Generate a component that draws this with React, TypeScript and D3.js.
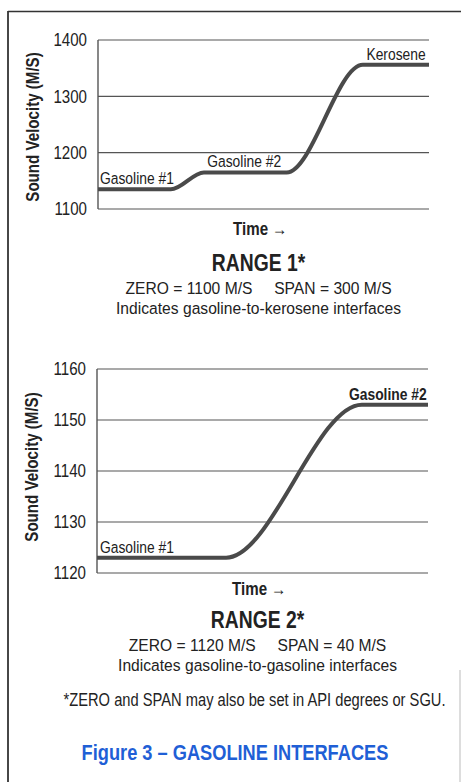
import React, { useEffect, useRef } from 'react';
import * as d3 from 'd3';

// Range 1: gasoline-to-kerosene
const range1Time = [0, 22, 32, 57, 80, 100];
const range1Velocity = [1135, 1135, 1165, 1165, 1356, 1356];
const range1Ticks = [1100, 1200, 1300, 1400];
const range1Labels = [
  { text: 'Gasoline #1', t: 0.6, v: 1135, bold: false, anchor: 'start' },
  { text: 'Gasoline #2', t: 33, v: 1165, bold: false, anchor: 'start' },
  { text: 'Kerosene', t: 99, v: 1356, bold: false, anchor: 'end' }
];

// Range 2: gasoline-to-gasoline
const range2Time = [0, 39, 80, 100];
const range2Velocity = [1123, 1123, 1153, 1153];
const range2Ticks = [1120, 1130, 1140, 1150, 1160];
const range2Labels = [
  { text: 'Gasoline #1', t: 0.9, v: 1123, bold: false, anchor: 'start' },
  { text: 'Gasoline #2', t: 99.6, v: 1153, bold: true, anchor: 'end' }
];

const FONT = '"Liberation Sans", Arial, Helvetica, sans-serif';
const INK = '#222';
const LINE = '#4a4a4a';
const SX = 0.84; // horizontal squeeze, the original is set in a condensed face

// condensed text: squeeze around the anchor point
function txt(parent, x, y, str, o: any = {}) {
  return parent.append('text')
    .attr('transform', `translate(${x},${y})${o.rotate ? ` rotate(${o.rotate})` : ''} scale(${o.sx ?? SX},1)`)
    .attr('text-anchor', o.anchor || 'middle')
    .attr('dy', o.dy || null)
    .attr('font-family', FONT)
    .attr('font-size', o.size || 16)
    .attr('font-weight', o.bold ? 700 : 400)
    .attr('fill', o.fill || INK)
    .attr('xml:space', 'preserve')
    .text(str);
}

function drawPanel(svg, cfg) {
  const { top, bottom, left, right, time, vel, ticks, labels, titleY, timeY, captionY, caption } = cfg;
  const x = d3.scaleLinear().domain([0, 100]).range([left, right]);
  const y = d3.scaleLinear().domain([ticks[0], ticks[ticks.length - 1]]).range([bottom, top]);
  const g = svg.append('g');

  // horizontal grid
  g.selectAll('.grid').data(ticks).enter().append('line')
    .attr('x1', left).attr('x2', right)
    .attr('y1', d => y(d)).attr('y2', d => y(d))
    .attr('stroke', '#555').attr('stroke-width', 1.2);
  g.append('line').attr('x1', left).attr('x2', left).attr('y1', top).attr('y2', bottom)
    .attr('stroke', '#555').attr('stroke-width', 1.4);

  // tick labels
  ticks.forEach(d => txt(g, left - 11, y(d), String(d), { anchor: 'end', size: 18, dy: '0.36em' }));

  // axis titles
  txt(g, left - 59, titleY, 'Sound Velocity (M/S)', { rotate: -90, size: 18, bold: true });
  txt(g, x(49), timeY, 'Time \u2192', { size: 18, bold: true });

  // data curve
  const pts = time.map((t, i) => [t, vel[i]]);
  const line = d3.line().x(d => x(d[0])).y(d => y(d[1])).curve(d3.curveMonotoneX);
  g.append('path').datum(pts).attr('d', line).attr('fill', 'none')
    .attr('stroke', LINE).attr('stroke-width', 4);

  // series labels
  labels.forEach(d => txt(g, x(d.t), y(d.v) - 5, d.text, { anchor: d.anchor, size: 16.5, bold: d.bold }));

  // caption
  const cx = x(48.5);
  txt(g, cx, captionY, caption[0], { size: 23, bold: true });
  txt(g, cx, captionY + 23, caption[1], { size: 17, sx: 0.92 });
  txt(g, cx, captionY + 43, caption[2], { size: 17, sx: 0.92 });
}

export default function App() {
  const ref = useRef(null);

  useEffect(() => {
    const el = ref.current;
    if (!el) return;
    const svg = d3.select(el);
    svg.selectAll('*').remove();

    svg.append('rect').attr('width', 461).attr('height', 782).attr('fill', '#fff');
    // page frame
    svg.append('line').attr('x1', 8).attr('x2', 461).attr('y1', 11.5).attr('y2', 11.5)
      .attr('stroke', '#333').attr('stroke-width', 1.5);
    svg.append('line').attr('x1', 8).attr('x2', 8).attr('y1', 11).attr('y2', 782)
      .attr('stroke', '#333').attr('stroke-width', 1.8);
    svg.append('line').attr('x1', 460).attr('x2', 460).attr('y1', 670).attr('y2', 782)
      .attr('stroke', '#bbb').attr('stroke-width', 1);

    drawPanel(svg, {
      top: 40, bottom: 209, left: 98, right: 429,
      time: range1Time, vel: range1Velocity, ticks: range1Ticks, labels: range1Labels,
      titleY: 127, timeY: 235, captionY: 271,
      caption: ['RANGE 1*', 'ZERO = 1100 M/S     SPAN = 300 M/S', 'Indicates gasoline-to-kerosene interfaces']
    });
    drawPanel(svg, {
      top: 369, bottom: 573, left: 97, right: 428,
      time: range2Time, vel: range2Velocity, ticks: range2Ticks, labels: range2Labels,
      titleY: 467, timeY: 595, captionY: 628,
      caption: ['RANGE 2*', 'ZERO = 1120 M/S     SPAN = 40 M/S', 'Indicates gasoline-to-gasoline interfaces']
    });

    txt(svg, 254.5, 706, '*ZERO and SPAN may also be set in API degrees or SGU.', { size: 17.5 });
    txt(svg, 235, 760, 'Figure 3 \u2013 GASOLINE INTERFACES', { size: 22.5, bold: true, fill: '#1f5fd6', sx: 0.81 });
  }, []);

  return (
    <svg ref={ref} width={461} height={782}
      style={{ position: 'absolute', left: 0, top: 0, display: 'block' }} />
  );
}
